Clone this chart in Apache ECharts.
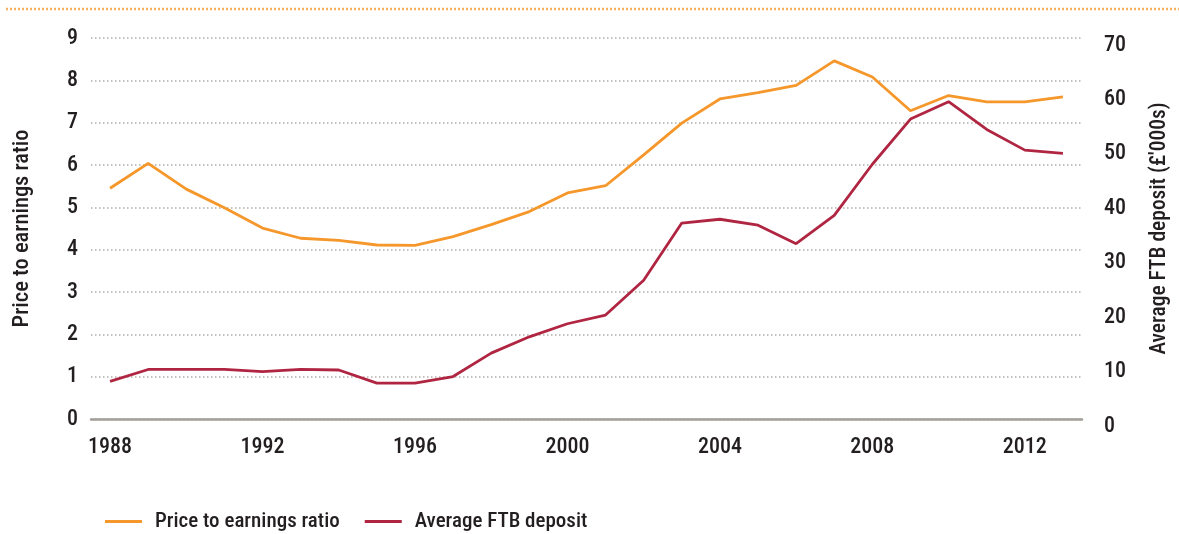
<!DOCTYPE html>
<html>
<head>
<meta charset="utf-8">
<script src="https://cdn.jsdelivr.net/npm/echarts@6/dist/echarts.min.js"></script>
<style>
html,body{margin:0;padding:0;background:#fff;}
#chart{width:1179px;height:534px;}
</style>
</head>
<body>
<div id="chart"></div>
<script>
const years = ['1988','1989','1990','1991','1992','1993','1994','1995','1996','1997','1998','1999','2000','2001','2002','2003','2004','2005','2006','2007','2008','2009','2010','2011','2012','2013'];
const priceToEarnings = [5.45,6.04,5.43,4.99,4.51,4.27,4.22,4.11,4.10,4.31,4.59,4.90,5.34,5.51,6.24,6.99,7.56,7.71,7.88,8.46,8.08,7.28,7.64,7.49,7.49,7.61];
const ftbDeposit = [6.9,9.1,9.1,9.1,8.7,9.1,9.0,6.6,6.6,7.8,12.1,15.1,17.5,19.1,25.5,36.0,36.7,35.6,32.2,37.4,46.8,55.1,58.3,53.2,49.4,48.8];
const leftTicks = {min:0, max:9, interval:1};
const rightTicks = {min:0, max:70, interval:10};

const FONT = '"Roboto Condensed", "Liberation Sans Narrow", sans-serif';
const W = 500;
const ORANGE = '#F5972A';
const RED = '#B02642';
const TXT = '#231f20';

const chart = echarts.init(document.getElementById('chart'), null, {renderer:'canvas'});
chart.setOption({
  animation:false,
  backgroundColor:'#fff',
  graphic:[{
    type:'line', shape:{x1:6,y1:9,x2:1179,y2:9},
    style:{stroke:'#F7B060', lineWidth:2.5, lineDash:[2,2]}
  }],
  grid:{left:91, right:86, top:38, bottom:115, containLabel:false},
  legend:{
    left:100, top:506, itemWidth:37, itemHeight:3, itemGap:25,
    icon:'rect',
    textStyle:{fontFamily:FONT, fontWeight:W, fontSize:21, color:TXT, padding:[0,0,0,8]},
    data:['Price to earnings ratio','Average FTB deposit']
  },
  xAxis:{
    type:'category', data:years, boundaryGap:true,
    axisLine:{lineStyle:{color:'#a39e99', width:2.5}},
    axisTick:{show:false},
    axisLabel:{interval:3, fontFamily:FONT, fontWeight:W, fontSize:22, color:TXT, margin:17}
  },
  yAxis:[{
    type:'value', min:leftTicks.min, max:leftTicks.max, interval:leftTicks.interval,
    name:'Price to earnings ratio', nameLocation:'middle', nameGap:57, nameRotate:90,
    nameTextStyle:{fontFamily:FONT, fontWeight:W, fontSize:22.5, color:TXT},
    axisLine:{show:false}, axisTick:{show:false},
    axisLabel:{fontFamily:FONT, fontWeight:W, fontSize:22, color:TXT, margin:13},
    splitLine:{show:true, lineStyle:{color:'#b3aea9', width:1.5, type:[1.5,2.5]}}
  },{
    type:'value', min:rightTicks.min, max:rightTicks.max, interval:rightTicks.interval,
    name:"Average FTB deposit (£'000s)", nameLocation:'middle', nameGap:67, nameRotate:90,
    nameTextStyle:{fontFamily:FONT, fontWeight:W, fontSize:21.5, color:TXT},
    axisLine:{show:false}, axisTick:{show:false},
    axisLabel:{fontFamily:FONT, fontWeight:W, fontSize:22, color:TXT, margin:22, verticalAlign:'top', lineHeight:14},
    splitLine:{show:false}
  }],
  series:[{
    name:'Price to earnings ratio', type:'line', yAxisIndex:0, data:priceToEarnings,
    symbol:'none', color:ORANGE, lineStyle:{width:2.8, color:ORANGE}
  },{
    name:'Average FTB deposit', type:'line', yAxisIndex:1, data:ftbDeposit,
    symbol:'none', color:RED, lineStyle:{width:2.8, color:RED}
  }]
});
</script>
</body>
</html>
